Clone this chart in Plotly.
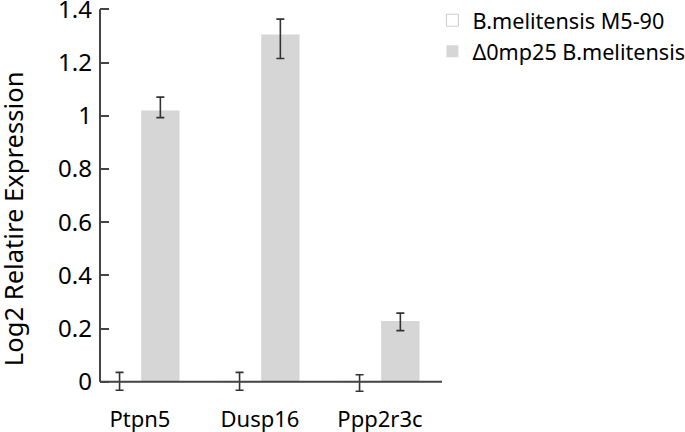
import plotly.graph_objects as go

genes = ["Ptpn5", "Dusp16", "Ppp2r3c"]
series_names = ["B.melitensis M5-90", "\u03940mp25 B.melitensis"]

wild_values = [0.0, 0.0, 0.0]
wild_err_plus = [0.035, 0.035, 0.026]
wild_err_minus = [0.032, 0.032, 0.036]

mutant_values = [1.02, 1.305, 0.228]
mutant_err_plus = [0.05, 0.058, 0.03]
mutant_err_minus = [0.027, 0.09, 0.036]

y_ticks = [0, 0.2, 0.4, 0.6, 0.8, 1.0, 1.2, 1.4]
y_tick_text = ["0", "0.2", "0.4", "0.6", "0.8", "1", "1.2", "1.4"]

FONT = "Noto Sans"
AXIS_COLOR = "#444444"
ERR_COLOR = "#333333"

fig = go.Figure()
fig.add_trace(
    go.Bar(
        x=genes,
        y=wild_values,
        name=series_names[0],
        marker=dict(color="white", line=dict(color="#cccccc", width=1)),
        error_y=dict(
            type="data",
            symmetric=False,
            array=wild_err_plus,
            arrayminus=wild_err_minus,
            color=ERR_COLOR,
            thickness=1.6,
            width=4,
        ),
    )
)
fig.add_trace(
    go.Bar(
        x=genes,
        y=mutant_values,
        name=series_names[1],
        marker=dict(color="#d6d6d6", line=dict(width=0)),
        error_y=dict(
            type="data",
            symmetric=False,
            array=mutant_err_plus,
            arrayminus=mutant_err_minus,
            color=ERR_COLOR,
            thickness=1.6,
            width=4,
        ),
    )
)

# axis lines drawn by hand so the y axis stops at zero like the original
fig.add_shape(type="line", xref="paper", yref="y", x0=0, x1=0, y0=0, y1=1.4,
              line=dict(color=AXIS_COLOR, width=2))
fig.add_shape(type="line", xref="paper", yref="y", x0=0, x1=1, y0=0, y1=0,
              line=dict(color=AXIS_COLOR, width=2))

# y title as an annotation so it can sit where the original has it
fig.add_annotation(
    text="Log2 Relatire Expression",
    textangle=-90,
    xref="paper", yref="y",
    x=0, y=0.611,
    xanchor="center", yanchor="middle",
    xshift=-87,
    showarrow=False,
    font=dict(family=FONT, size=25.6, color="black"),
)

fig.update_layout(
    width=685,
    height=432,
    barmode="group",
    bargap=0.32,
    bargroupgap=0.06,
    plot_bgcolor="white",
    paper_bgcolor="white",
    font=dict(family=FONT, size=20, color="black"),
    margin=dict(l=100, r=243, t=4, b=37, autoexpand=False),
    showlegend=True,
    legend=dict(
        x=0.972,
        y=1.011,
        xanchor="left",
        yanchor="top",
        font=dict(family=FONT, size=21.6, color="black"),
        bgcolor="rgba(0,0,0,0)",
        tracegroupgap=0,
    ),
    xaxis=dict(
        range=[-0.333, 2.517],
        showline=False,
        showgrid=False,
        zeroline=False,
        ticks="",
        ticklabelstandoff=9,
        tickfont=dict(size=22),
    ),
    yaxis=dict(
        range=[-0.05, 1.42],
        tickvals=y_ticks,
        ticktext=y_tick_text,
        ticks="inside",
        ticklen=9,
        tickwidth=2,
        tickcolor=AXIS_COLOR,
        ticklabelstandoff=7,
        ticklabeloverflow="allow",
        showline=False,
        showgrid=False,
        zeroline=False,
        tickfont=dict(size=24),
    ),
)

fig.write_html(
    "out.html",
    config={"displayModeBar": False},
    post_script="document.body.style.margin='0px';",
)
